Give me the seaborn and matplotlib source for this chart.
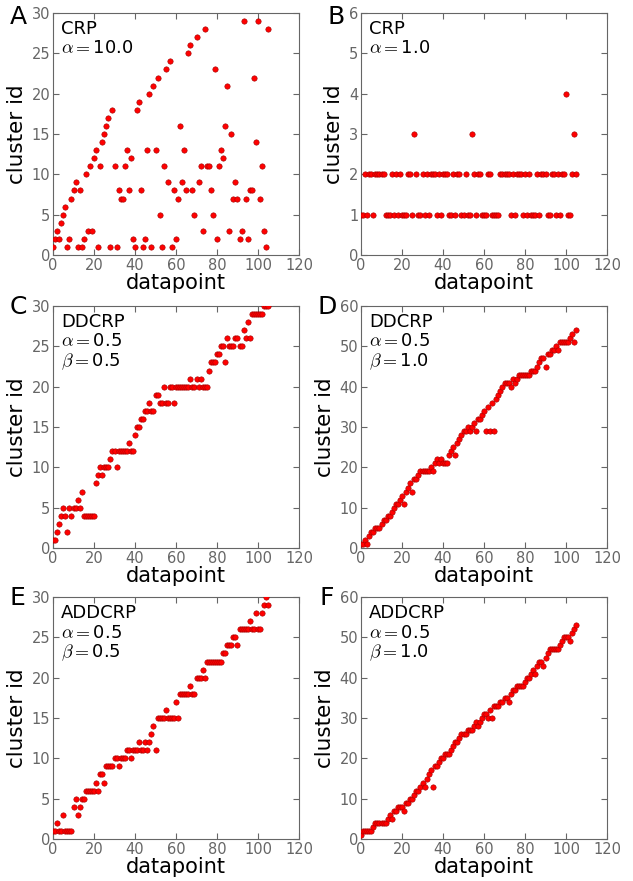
import numpy as np
import pandas as pd
import matplotlib
matplotlib.use("Agg")
import matplotlib.pyplot as plt
import seaborn as sns

# ---------------- data ----------------
datapoint = list(range(106))

crp_a10 = [1,2,3,2,4,5,6,1,2,7, 8,9,1,8,1,2,10,3,11,3, 12,13,1,11,14,15,16,17,1,18,
           11,1,8,7,7,11,13,8,12,2, 1,18,19,8,1,2,13,20,1,21, 13,22,5,1,11,23,9,24,1,8,
           2,7,16,9,13,8,25,26,8,5, 27,9,11,3,28,11,11,8,5,23, 2,11,13,12,16,21,3,15,7,9,
           7,2,3,29,7,2,8,8,22,14, 29,7,11,3,1,28]
crp_a1 = [1,1,2,1,2,2,1,2,2,2, 2,2,1,1,1,2,1,2,1,2, 1,1,1,2,2,1,3,2,1,1,
          2,1,2,1,2,2,2,1,2,1, 2,2,2,1,1,2,1,2,2,1, 1,2,1,1,3,2,1,2,2,1,
          1,1,2,2,1,1,1,1,2,2, 2,2,2,1,2,1,2,2,2,1, 2,1,2,1,1,1,2,1,2,2,
          2,1,1,2,2,1,2,1,2,2, 4,1,1,2,3,2]
ddcrp_b05 = [1,1,2,3,4,5,4,2,5,4, 5,5,6,5,7,4,4,4,4,4, 4,8,9,10,9,10,10,10,11,12,
             12,10,12,12,12,12,12,13,12,12, 14,15,15,16,16,17,17,18,17,17,
             19,19,18,18,20,18,18,20,20,18, 20,20,20,20,20,20,20,21,20,20,
             21,20,21,20,20,20,22,23,23,23, 24,24,25,25,23,26,25,25,25,26,
             26,25,25,27,26,28,26,29,29,29, 29,29,29,30,30,30]
ddcrp_b10 = [1,1,2,1,3,4,4,5,5,5, 6,7,7,8,8,9,10,11,11,12, 13,11,14,15,16,14,17,17,18,19,
             19,19,19,19,20,19,21,22,21,22, 21,21,21,23,24,25,23,26,27,28,
             29,29,30,29,30,31,29,32,32,33, 34,29,35,29,36,29,37,38,39,40,
             41,41,41,40,42,41,42,43,43,43, 43,43,43,44,44,44,45,46,47,47,
             45,48,48,49,49,50,49,51,51,51, 51,51,52,53,51,54]
addcrp_b05 = [1,1,2,1,1,3,1,1,1,1, 4,5,3,4,5,5,6,6,6,6, 6,7,6,8,8,7,9,9,9,9,
              10,10,9,10,10,10,11,11,10,11, 11,11,12,11,11,12,11,12,13,14,
              11,15,15,15,15,16,15,15,15,15, 17,15,18,18,18,18,18,19,18,18,
              20,20,20,21,20,22,22,22,22,22, 22,22,22,23,23,24,24,24,25,25,
              24,26,26,26,26,26,27,26,26,28, 26,26,28,29,30,29]
addcrp_b10 = [1,2,2,2,2,2,3,4,4,4, 4,4,4,5,6,5,7,7,8,8, 8,7,9,9,10,10,11,12,12,13,
              14,13,15,16,17,13,18,18,19,20, 20,21,21,21,22,23,24,24,25,26,
              26,26,27,27,27,28,29,28,29,30, 31,31,30,32,30,33,33,33,34,34,
              35,35,34,36,37,37,38,38,38,38, 39,40,40,41,42,41,43,44,44,43,
              45,46,47,47,47,47,47,48,49,50, 50,50,49,51,52,53]

panel_letters = ["A", "B", "C", "D", "E", "F"]
panel_series = [crp_a10, crp_a1, ddcrp_b05, ddcrp_b10, addcrp_b05, addcrp_b10]
panel_text = [["CRP", r"$\alpha=$10.0"],
              ["CRP", r"$\alpha=$1.0"],
              ["DDCRP", r"$\alpha=$0.5", r"$\beta=$0.5"],
              ["DDCRP", r"$\alpha=$0.5", r"$\beta=$1.0"],
              ["ADDCRP", r"$\alpha=$0.5", r"$\beta=$0.5"],
              ["ADDCRP", r"$\alpha=$0.5", r"$\beta=$1.0"]]
y_max = [30, 6, 30, 60, 30, 60]
y_step = [5, 1, 5, 10, 5, 10]
x_ticks = [0, 20, 40, 60, 80, 100, 120]

for s in panel_series:
    assert len(s) == len(datapoint)

# ---------------- style ----------------
sns.set_style("ticks", rc={
    "xtick.direction": "in", "ytick.direction": "in",
    "xtick.top": True, "ytick.right": True,
    "axes.edgecolor": "0.4", "axes.linewidth": 0.9,
    "xtick.color": "0.4", "ytick.color": "0.4",
    "xtick.labelcolor": "black", "ytick.labelcolor": "black",
    "text.color": "black", "axes.labelcolor": "black",
})
plt.rcParams["font.family"] = ["DejaVu Sans"]
plt.rcParams["mathtext.fontset"] = "cm"

W, H = 633, 881
fig = plt.figure(figsize=(W / 100, H / 100), dpi=100)

lefts = [53, 361]
tops = [13, 306, 597]
aw, ah = 246, 242
letter_pos = [(10, 24), (327, 24), (10, 314), (317, 314), (10, 605), (320, 605)]

for i in range(6):
    r, c = divmod(i, 2)
    l = lefts[c]
    t = tops[r]
    ax = fig.add_axes([l / W, 1 - (t + ah) / H, aw / W, ah / H])
    df = pd.DataFrame({"datapoint": datapoint, "cluster id": panel_series[i]})
    sns.scatterplot(data=df, x="datapoint", y="cluster id", ax=ax,
                    color="#ff0000", edgecolor="#a00000", linewidth=0.4,
                    s=15, legend=False, zorder=3)
    ax.set_xlim(0, 120)
    ax.set_ylim(0, y_max[i])
    ax.set_xticks(x_ticks)
    ax.set_yticks(np.arange(0, y_max[i] + 1, y_step[i]))
    ax.tick_params(labelsize=10.5, length=4, width=0.8, pad=2)
    ax.set_xlabel("datapoint", fontsize=15, labelpad=0)
    ax.set_ylabel("cluster id", fontsize=15.5, labelpad=3.5)
    for j, line in enumerate(panel_text[i]):
        ax.annotate(line, xy=(0, 1), xycoords="axes fraction",
                    xytext=(6, -(21 + 19.5 * j) * 0.72), textcoords="offset points",
                    va="baseline", ha="left", fontsize=13, color="black")
    lx, ly = letter_pos[i]
    fig.text(lx / W, 1 - ly / H, panel_letters[i], fontsize=18, va="baseline",
             ha="left", color="black")

fig.savefig("out.png", dpi=100)
